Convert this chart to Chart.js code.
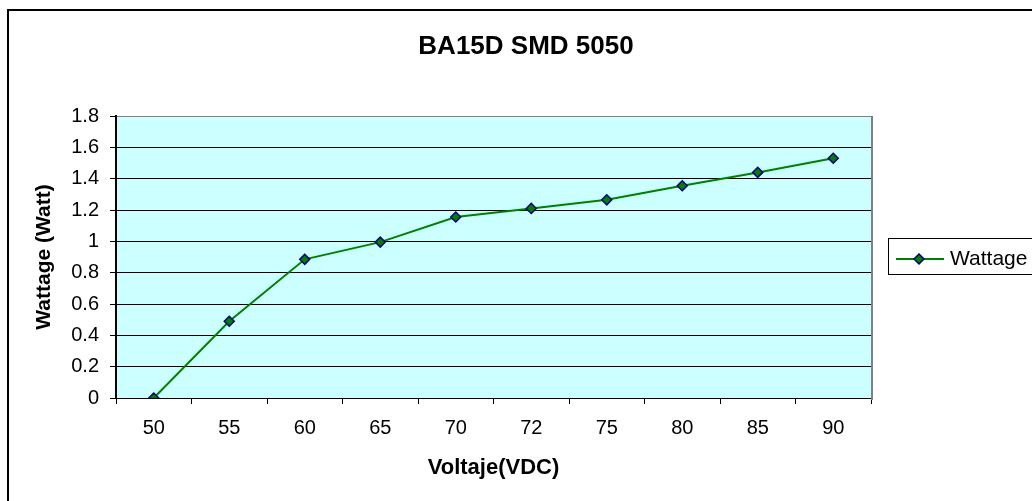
<!DOCTYPE html>
<html>
<head>
<meta charset="utf-8">
<script src="https://cdn.jsdelivr.net/npm/chart.js@4.4.0/dist/chart.umd.min.js"></script>
<style>
  html, body { margin: 0; padding: 0; background: #fff; overflow: hidden; }
  #chart { display: block; }
</style>
</head>
<body>
<canvas id="chart" width="1032" height="501"></canvas>
<script>
const chartTitle = "BA15D SMD 5050";
const voltages = ["50", "55", "60", "65", "70", "72", "75", "80", "85", "90"];
const wattage = [0, 0.49, 0.885, 0.995, 1.155, 1.21, 1.265, 1.355, 1.44, 1.53];
const yTicks = [0, 0.2, 0.4, 0.6, 0.8, 1, 1.2, 1.4, 1.6, 1.8];

const FONT = '"Liberation Sans", Arial, sans-serif';
Chart.defaults.font.family = FONT;
Chart.defaults.color = "#000";

// plot background, outer frame, title and the boxed legend on the right
const excelLook = {
  id: "excelLook",
  beforeDraw(chart) {
    const { ctx, chartArea: a } = chart;
    ctx.save();
    ctx.fillStyle = "#ccffff";
    ctx.fillRect(a.left, a.top, a.right - a.left, a.bottom - a.top);
    ctx.strokeStyle = "#000";
    ctx.lineWidth = 2;
    ctx.beginPath();
    ctx.moveTo(8, 520);
    ctx.lineTo(8, 10);
    ctx.lineTo(1040, 10);
    ctx.stroke();
    ctx.font = "bold 26px " + FONT;
    ctx.textAlign = "center";
    ctx.textBaseline = "middle";
    ctx.fillStyle = "#000";
    ctx.fillText(chartTitle, 526, 47);
    ctx.restore();
  },
  afterDatasetsDraw(chart) {
    const { ctx, chartArea: a } = chart;
    const ds = chart.data.datasets[0];
    ctx.save();
    ctx.strokeStyle = "#808080";
    ctx.lineWidth = 2;
    ctx.beginPath();
    ctx.moveTo(a.right + 1, a.top);
    ctx.lineTo(a.right + 1, a.bottom + 2);
    ctx.stroke();

    ctx.strokeStyle = "#000";
    ctx.lineWidth = 1;
    ctx.strokeRect(888.5, 238.5, 200, 36);
    ctx.strokeStyle = ds.borderColor;
    ctx.lineWidth = 2;
    ctx.beginPath();
    ctx.moveTo(896, 259);
    ctx.lineTo(944, 259);
    ctx.stroke();
    ctx.fillStyle = ds.pointBackgroundColor;
    ctx.strokeStyle = ds.pointBorderColor;
    ctx.lineWidth = 1.5;
    ctx.beginPath();
    ctx.moveTo(919, 254);
    ctx.lineTo(924, 259);
    ctx.lineTo(919, 264);
    ctx.lineTo(914, 259);
    ctx.closePath();
    ctx.fill();
    ctx.stroke();
    ctx.fillStyle = "#000";
    ctx.font = "21px " + FONT;
    ctx.textAlign = "left";
    ctx.textBaseline = "middle";
    ctx.fillText(ds.label, 950, 259);
    ctx.restore();
  }
};

new Chart(document.getElementById("chart"), {
  type: "line",
  data: {
    labels: voltages,
    datasets: [{
      label: "Wattage",
      data: wattage,
      borderColor: "#008000",
      borderWidth: 2,
      tension: 0,
      pointStyle: "rectRot",
      pointRadius: 5,
      pointBackgroundColor: "#008000",
      pointBorderColor: "#000080",
      pointBorderWidth: 1.5
    }]
  },
  options: {
    responsive: false,
    animation: false,
    layout: { padding: { top: 116, left: 26, right: 161, bottom: 10 } },
    plugins: {
      legend: { display: false },
      title: { display: false },
      tooltip: { enabled: false }
    },
    scales: {
      x: {
        offset: true,
        afterFit(scale) { scale.height = 93; },
        grid: {
          offset: true,
          drawOnChartArea: false,
          drawTicks: true,
          tickLength: 6,
          tickColor: "#000"
        },
        border: { color: "#000", width: 1 },
        ticks: { font: { size: 20 }, padding: 12, color: "#000" },
        title: {
          display: true,
          text: "Voltaje(VDC)",
          font: { size: 22, weight: "bold" },
          padding: { top: 0, bottom: 10 },
          color: "#000"
        }
      },
      y: {
        min: 0,
        max: 1.8,
        afterBuildTicks(scale) { scale.ticks = yTicks.map(v => ({ value: v })); },
        afterFit(scale) { scale.width = 90; },
        grid: {
          color: ctx => (ctx.tick && ctx.tick.value === 1.8 ? "#808080" : "#000"),
          lineWidth: 1,
          tickLength: 6,
          tickColor: "#000"
        },
        border: { color: "#000", width: 2 },
        ticks: {
          font: { size: 20 },
          padding: 11,
          color: "#000",
          callback: v => String(v)
        },
        title: {
          display: true,
          text: "Wattage (Watt)",
          font: { size: 21, weight: "bold" },
          padding: { top: 6, bottom: 0 },
          color: "#000"
        }
      }
    }
  },
  plugins: [excelLook]
});
</script>
</body>
</html>
